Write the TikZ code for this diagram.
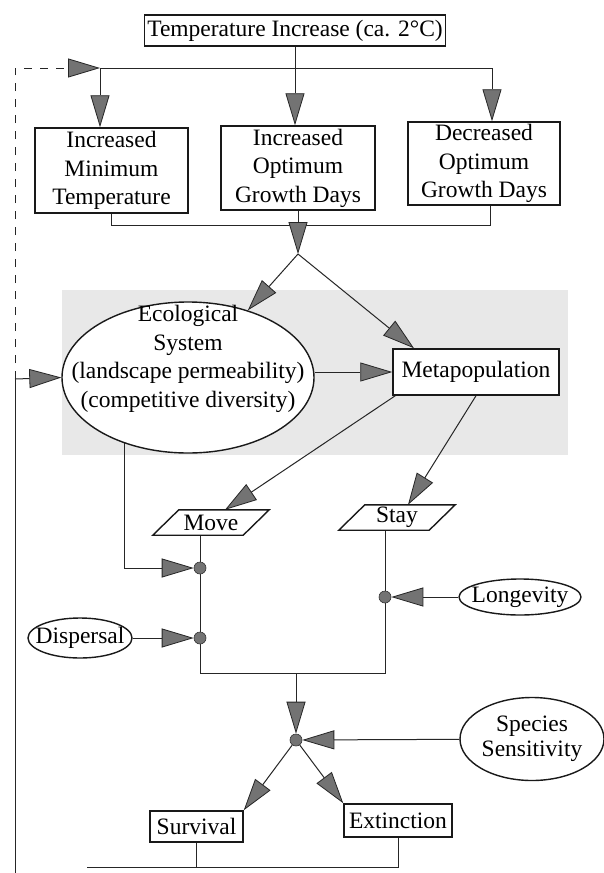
\documentclass[tikz,border=0pt]{standalone}
\usepackage{fontspec}
\setmainfont{Liberation Serif}
\usetikzlibrary{arrows.meta,shapes.geometric,calc}
\newcommand{\fsa}{\fontsize{23.5}{28.5}\selectfont}
\newcommand{\fsb}{\fontsize{23.5}{25}\selectfont}
\pgfdeclarelayer{back}
\pgfdeclarelayer{lines}
\pgfsetlayers{back,lines,main}
\begin{document}
\begin{tikzpicture}[x=1pt,y=-1pt,
  ln/.style={line width=1pt, draw=black!85},
  arr/.style={ln, -{Triangle[length=32pt,width=19pt,fill=black!55,color=black!85,line width=0.8pt]}},
  boxnode/.style={draw=black!90, line width=1.5pt, fill=white, inner sep=0pt, font=\fsa, align=center},
  ovalnode/.style={ellipse, draw=black!90, line width=1.4pt, fill=white, inner sep=0pt, font=\fsa, align=center},
  dot/.style={circle, fill=black!55, draw=black!80, line width=0.6pt, minimum size=12pt, inner sep=0pt},
  plain/.style={font=\fsa, inner sep=0pt, align=center},
  para/.style={draw=black!90, line width=1.4pt}
]
\useasboundingbox (0,0) rectangle (604,873);
\begin{pgfonlayer}{back}
  \fill[white] (0,0) rectangle (604,873);
  \fill[black!9] (62,290) rectangle (568,455);
\end{pgfonlayer}

% nodes
\node[boxnode, minimum width=301pt, minimum height=31pt] (top) at (295,30.5) {Temperature Increase (ca. 2°C)};
\node[boxnode, minimum width=153pt, minimum height=85pt] (b1) at (111.5,170.5) {Increased\\Minimum\\Temperature};
\node[boxnode, minimum width=154pt, minimum height=84pt] (b2) at (298,168) {Increased\\Optimum\\Growth Days};
\node[boxnode, minimum width=152pt, minimum height=83pt] (b3) at (484,163.5) {Decreased\\Optimum\\Growth Days};

\node[ovalnode, minimum width=252pt, minimum height=151pt] (eco) at (188,377.5) {};
\node[plain] (ecotxt) at (188,359) {Ecological\\System\\(landscape permeability)\\(competitive diversity)};
\node[boxnode, minimum width=166pt, minimum height=46pt] (meta) at (476,372) {Metapopulation};

\node[plain, minimum width=90pt, minimum height=25pt] (move) at (211,522.5) {Move};
\draw[para] ([xshift=-13pt]move.south west) -- ([xshift=-13pt]move.south east) -- ([xshift=13pt]move.north east) -- ([xshift=13pt]move.north west) -- cycle;
\node[plain, minimum width=90pt, minimum height=25pt] (stay) at (397,517.5) {Stay};
\draw[para] ([xshift=-13pt]stay.south west) -- ([xshift=-13pt]stay.south east) -- ([xshift=13pt]stay.north east) -- ([xshift=13pt]stay.north west) -- cycle;

\node[dot] (d1) at (200,568) {};
\node[dot] (d2) at (200,638) {};
\node[dot] (d3) at (385,597) {};
\node[dot] (d4) at (296,740) {};

\node[ovalnode, inner xsep=-9pt, minimum width=122pt, minimum height=36pt] (lon) at (520,597) {Longevity};
\node[ovalnode, inner xsep=-10pt, minimum width=104pt, minimum height=40pt] (disp) at (80,638) {Dispersal};
\node[ovalnode, minimum width=144pt, minimum height=83pt, font=\fsb] (ss) at (532,739) {Species\\Sensitivity};

\node[boxnode, minimum width=93pt, minimum height=31pt] (surv) at (196.5,826.5) {Survival};
\node[boxnode, minimum width=108pt, minimum height=33pt] (ext) at (398,820.5) {Extinction};

% coordinates
\coordinate (J1) at (100,68);
\coordinate (J3) at (295,68);
\coordinate (J4) at (492,68);
\coordinate (L) at (15,379);
\coordinate (LB) at (15,873);
\coordinate (K2) at (298,225);
\coordinate (K3) at (490,225);
\coordinate (S) at (298,254);
\coordinate (J2) at (296,673);
\coordinate (B1) at (87,867);

\begin{pgfonlayer}{lines}
  \draw[ln] (top.south) -- (J3);
  \draw[ln] (J1) -- (J4);
  \draw[arr] (J1) -- (J1 |- b1.north);
  \draw[arr] (J3) -- (J3 |- b2.north);
  \draw[arr] (J4) -- (J4 |- b3.north);
  \draw[arr, dash pattern=on 8pt off 8pt] (L) |- (J1);
  \draw[ln] (LB) -- (L);
  \draw[arr] (L) -- (eco.west);
  \draw[ln] (b1.south) |- (K3) -- (K3 |- b3.south);
  \draw[ln] (b2.south) -- (K2);
  \draw[arr] (K2) -- (S);
  \draw[arr] (S) -- (eco);
  \draw[arr] (S) -- ([xshift=-62pt]meta.north);
  \draw[arr] (eco.east |- meta.west) -- (meta.west);
  \draw[arr] ([xshift=3pt]meta.south west) -- ([xshift=14pt]move.north);
  \draw[arr] (meta.south) -- ([xshift=11pt]stay.north);
  \draw[arr] (eco.226) |- (d1);
  \draw[ln] ([xshift=-11pt]move.south) |- (J2);
  \draw[ln] ([xshift=-12pt]stay.south) |- (J2);
  \draw[arr] (disp) -- (d2);
  \draw[arr] (lon) -- (d3);
  \draw[arr] (J2) -- (d4);
  \draw[arr] (ss) -- (d4);
  \draw[arr] (d4) -- (surv.north east);
  \draw[arr] (d4) -- (ext.north west);
  \draw[ln] (ext.south) |- (B1);
  \draw[ln] (surv.south) -- (surv.south |- B1);
\end{pgfonlayer}
\end{tikzpicture}
\end{document}
